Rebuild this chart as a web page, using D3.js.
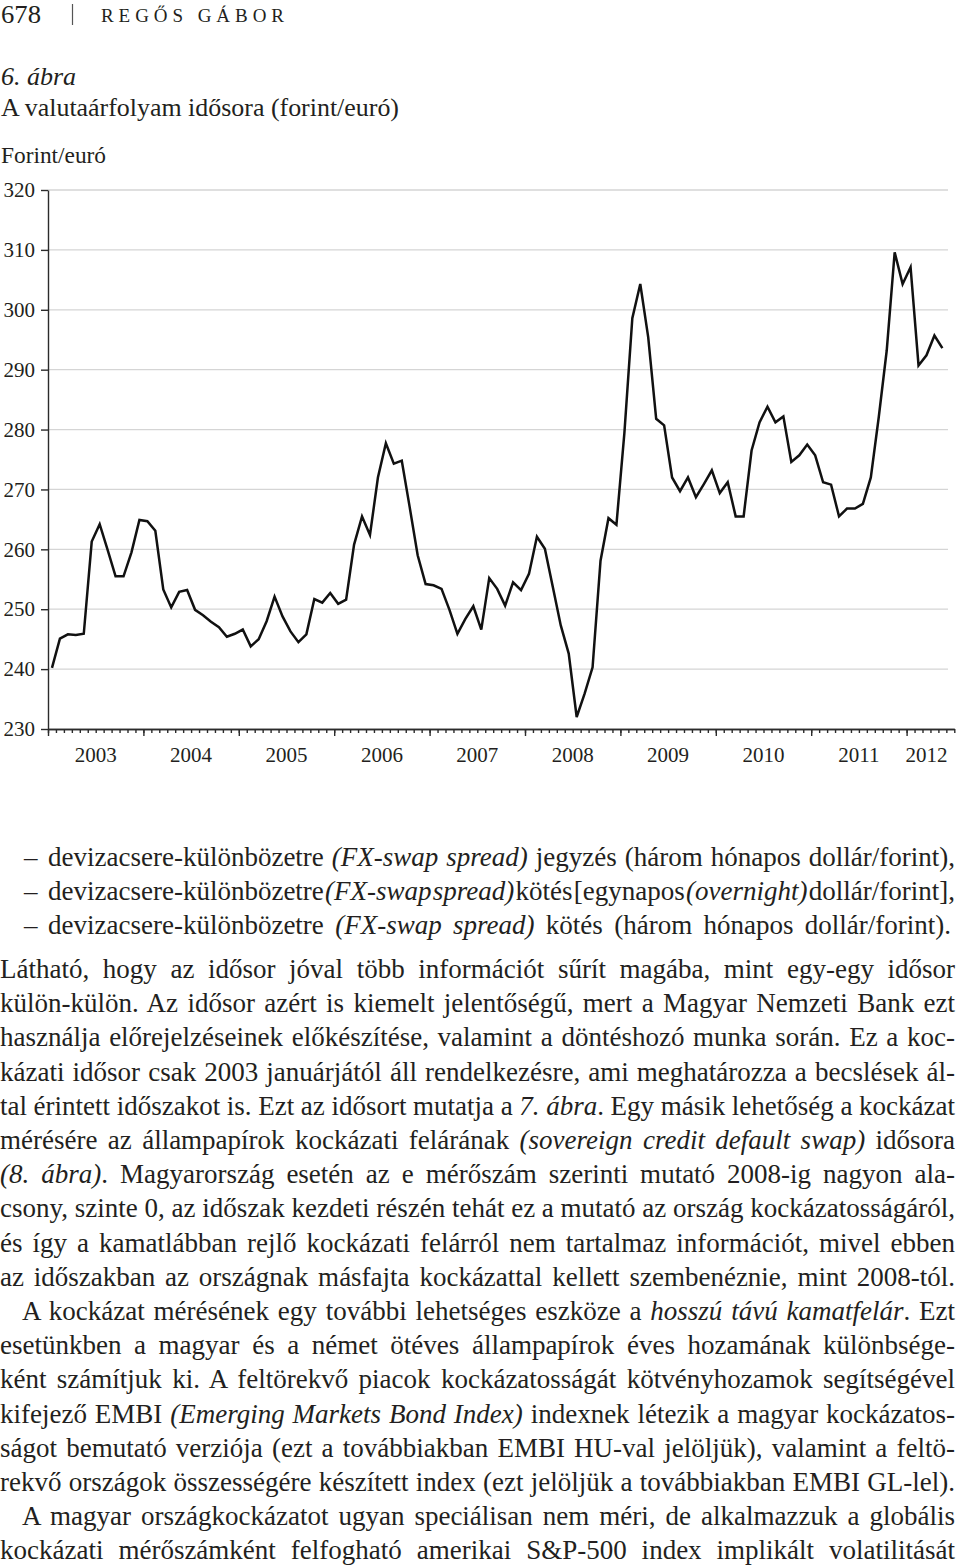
<!DOCTYPE html>
<html>
<head>
<meta charset="utf-8">
<script src="https://cdn.jsdelivr.net/npm/d3@7"></script>
<style>
  body { margin: 0; background: #fff; }
  svg { display: block; background: #fff; }
  svg text { font-family: "Liberation Serif", "Times New Roman", serif; fill: #231f20; }
</style>
</head>
<body>
<div id="page"></div>
<script>
// monthly forint/euro rate, Jan 2003 - May 2012
var years = [2003, 2004, 2005, 2006, 2007, 2008, 2009, 2010, 2011, 2012];
var yTicks = [230, 240, 250, 260, 270, 280, 290, 300, 310, 320];
var rates = [
  240.2, 245.1, 245.8, 245.7, 245.9, 261.3, 264.2, 259.9, 255.5, 255.5, 259.5, 264.9,
  264.7, 263.1, 253.3, 250.3, 252.9, 253.2, 249.9, 249.0, 247.9, 247.0, 245.4, 245.9,
  246.6, 243.8, 245.0, 248.0, 252.1, 248.8, 246.3, 244.5, 245.8, 251.7, 251.1, 252.7,
  250.9, 251.6, 260.8, 265.5, 262.4, 272.0, 277.7, 274.3, 274.8, 267.0, 259.0, 254.2,
  254.0, 253.4, 249.9, 245.9, 248.4, 250.5, 246.6, 255.2, 253.4, 250.6, 254.5, 253.2,
  255.9, 262.1, 260.1, 253.7, 247.3, 242.6, 232.0, 235.9, 240.3, 258.1, 265.2, 264.1,
  279.4, 298.6, 304.3, 295.4, 281.8, 280.7, 272.0, 269.7, 272.0, 268.7, 270.9, 273.2,
  269.4, 271.2, 265.5, 265.5, 276.5, 281.2, 283.8, 281.2, 282.2, 274.6, 275.7, 277.5,
  275.7, 271.2, 270.8, 265.5, 266.8, 266.8, 267.6, 272.0, 282.1, 293.2, 309.6, 304.3,
  307.1, 290.7, 292.4, 295.7, 293.6
];
var axisMonths = 114;

// text of the page: [string, italic]
var legendLines = [
  [["devizacsere-különbözetre ", 0], ["(FX-swap spread)", 1], [" jegyzés (három hónapos dollár/forint),", 0]],
  [["devizacsere-különbözetre ", 0], ["(FX-swap spread)", 1], [" kötés [egynapos ", 0], ["(overnight)", 1], [" dollár/forint],", 0]],
  [["devizacsere-különbözetre ", 0], ["(FX-swap spread)", 1], [" kötés (három hónapos dollár/forint).", 0]]
];
var bodyLines = [
  [["Látható, hogy az idősor jóval több információt sűrít magába, mint egy-egy idősor", 0]],
  [["külön-külön. Az idősor azért is kiemelt jelentőségű, mert a Magyar Nemzeti Bank ezt", 0]],
  [["használja előrejelzéseinek előkészítése, valamint a döntéshozó munka során. Ez a koc-", 0]],
  [["kázati idősor csak 2003 januárjától áll rendelkezésre, ami meghatározza a becslések ál-", 0]],
  [["tal érintett időszakot is. Ezt az idősort mutatja a ", 0], ["7. ábra", 1], [". Egy másik lehetőség a kockázat", 0]],
  [["mérésére az állampapírok kockázati felárának ", 0], ["(sovereign credit default swap)", 1], [" idősora", 0]],
  [["(8. ábra)", 1], [". Magyarország esetén az e mérőszám szerinti mutató 2008-ig nagyon ala-", 0]],
  [["csony, szinte 0, az időszak kezdeti részén tehát ez a mutató az ország kockázatosságáról,", 0]],
  [["és így a kamatlábban rejlő kockázati felárról nem tartalmaz információt, mivel ebben", 0]],
  [["az időszakban az országnak másfajta kockázattal kellett szembenéznie, mint 2008-tól.", 0]],
  [["A kockázat mérésének egy további lehetséges eszköze a ", 0], ["hosszú távú kamatfelár", 1], [". Ezt", 0]],
  [["esetünkben a magyar és a német ötéves állampapírok éves hozamának különbsége-", 0]],
  [["ként számítjuk ki. A feltörekvő piacok kockázatosságát kötvényhozamok segítségével", 0]],
  [["kifejező EMBI ", 0], ["(Emerging Markets Bond Index)", 1], [" indexnek létezik a magyar kockázatos-", 0]],
  [["ságot bemutató verziója (ezt a továbbiakban EMBI HU-val jelöljük), valamint a feltö-", 0]],
  [["rekvő országok összességére készített index (ezt jelöljük a továbbiakban EMBI GL-lel).", 0]],
  [["A magyar országkockázatot ugyan speciálisan nem méri, de alkalmazzuk a globális", 0]],
  [["kockázati mérőszámként felfogható amerikai S&P-500 index implikált volatilitását", 0]]
];
var indented = [10, 16];

var width = 960, height = 1566;
var margins = { left: 48, right: 6, top: 190, bottom: 837 };
var textSize = 27;
var serif = "Liberation Serif";

var svg = d3.select("#page").append("svg")
  .attr("width", width)
  .attr("height", height);

var xScale = d3.scaleLinear().domain([0, axisMonths]).range([margins.left, 954.3]);
var yScale = d3.scaleLinear().domain([230, 320]).range([height - margins.bottom, margins.top]);

drawHeader();
drawChart();
drawText();

function drawHeader() {
  svg.append("text").attr("x", 1).attr("y", 23).attr("font-size", 26).attr("font-family", serif)
    .attr("textLength", 40).attr("lengthAdjust", "spacingAndGlyphs").text("678");
  svg.append("line").attr("x1", 72.5).attr("x2", 72.5).attr("y1", 4).attr("y2", 25)
    .attr("stroke", "#555").attr("stroke-width", 1.2);
  svg.append("text").attr("x", 101).attr("y", 22).attr("font-size", 19).attr("font-family", serif)
    .attr("textLength", 183).attr("lengthAdjust", "spacing").text("REGŐS GÁBOR");

  svg.append("text").attr("x", 1).attr("y", 85).attr("font-size", 26).attr("font-family", serif)
    .attr("font-style", "italic").text("6. ábra");
  svg.append("text").attr("x", 1).attr("y", 116).attr("font-size", 26).attr("font-family", serif)
    .attr("textLength", 398).attr("lengthAdjust", "spacingAndGlyphs")
    .text("A valutaárfolyam idősora (forint/euró)");
  svg.append("text").attr("x", 1).attr("y", 163).attr("font-size", 24).attr("font-family", serif)
    .attr("textLength", 105).attr("lengthAdjust", "spacingAndGlyphs")
    .text("Forint/euró");
}

function drawChart() {
  // gridlines
  svg.append("g").selectAll("line")
    .data(yTicks.filter(function (d) { return d > 230; }))
    .enter().append("line")
    .attr("x1", margins.left).attr("x2", 948)
    .attr("y1", function (d) { return yScale(d); })
    .attr("y2", function (d) { return yScale(d); })
    .attr("stroke", "#d5d5d5").attr("stroke-width", 1.3);

  var yAxis = d3.axisLeft(yScale).tickValues(yTicks).tickSize(7).tickSizeOuter(0)
    .tickPadding(6).tickFormat(d3.format("d"));
  var gy = svg.append("g").attr("transform", "translate(" + margins.left + ",0)").call(yAxis);
  gy.attr("font-family", serif);
  gy.selectAll("text").attr("font-size", 21).attr("font-family", serif).attr("fill", "#231f20");

  var minor = d3.axisBottom(xScale).tickValues(d3.range(0, axisMonths + 1))
    .tickSize(4).tickSizeOuter(0).tickFormat("");
  var major = d3.axisBottom(xScale).tickValues(years.map(function (y, i) { return i * 12; }))
    .tickSize(7).tickSizeOuter(0).tickFormat("");
  var x0 = yScale(230);
  svg.append("g").attr("transform", "translate(0," + x0 + ")").call(minor);
  svg.append("g").attr("transform", "translate(0," + x0 + ")").call(major);

  svg.selectAll(".domain, .tick line").attr("stroke", "#2b2b2b").attr("stroke-width", 1.4);

  svg.append("g").selectAll("text")
    .data(years)
    .enter().append("text")
    .attr("x", function (d, i) {
      var start = i * 12, end = Math.min(start + 12, rates.length);
      return xScale((start + end) / 2);
    })
    .attr("y", x0 + 33)
    .attr("text-anchor", "middle")
    .attr("font-family", serif)
    .attr("font-size", 21)
    .text(function (d) { return d; });

  var line = d3.line()
    .x(function (d, i) { return xScale(i + 0.5); })
    .y(function (d) { return yScale(d); });
  svg.append("path")
    .datum(rates)
    .attr("d", line)
    .attr("fill", "none")
    .attr("stroke", "#111")
    .attr("stroke-width", 2.5);
}

function drawLine(parts, x, y, right) {
  var t = svg.append("text").attr("x", x).attr("y", y)
    .attr("font-size", textSize).attr("font-family", serif)
    .style("white-space", "pre");
  parts.forEach(function (p) {
    t.append("tspan").attr("font-style", p[1] ? "italic" : null).text(p[0]);
  });
  var natural = t.node().getComputedTextLength();
  var spaces = parts.map(function (p) { return p[0]; }).join("").split(" ").length - 1;
  if (spaces > 0) t.attr("word-spacing", ((right - x) - natural) / spaces);
}

function drawText() {
  legendLines.forEach(function (parts, i) {
    var y = 866 + i * 34;
    svg.append("text").attr("x", 24).attr("y", y).attr("font-size", textSize)
      .attr("font-family", serif).text("–");
    drawLine(parts, 48, y, i == 2 ? 951 : 955);
  });
  bodyLines.forEach(function (parts, i) {
    var x = indented.indexOf(i) >= 0 ? 22 : 0;
    drawLine(parts, x, 978 + i * 34.2, 955);
  });
}
</script>
</body>
</html>
